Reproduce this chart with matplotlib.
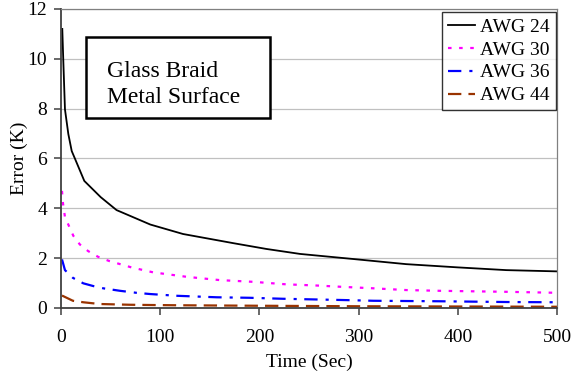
import matplotlib
matplotlib.use("Agg")
import matplotlib.pyplot as plt
from matplotlib.patches import Rectangle

plt.rcParams['font.family'] = ['Liberation Serif', 'DejaVu Serif']

# ---- data ----
t24 = [1.3, 2.3, 4, 7.4, 10.8, 14, 23.5, 40, 56, 90, 123, 174, 207, 241, 291, 348, 400, 449, 500]
v24 = [11.2, 9.95, 7.97, 6.98, 6.3, 6.0, 5.1, 4.45, 3.93, 3.35, 2.97, 2.6, 2.37, 2.17, 1.98, 1.76, 1.63, 1.52, 1.47]

t30 = [1, 2, 4, 12.4, 19, 27.5, 37.6, 49, 60.5, 71, 93, 127, 160, 194, 227, 259, 283, 315, 348, 382, 415, 449, 500]
v30 = [4.7, 4.2, 3.65, 2.9, 2.55, 2.28, 2.05, 1.88, 1.75, 1.63, 1.43, 1.25, 1.12, 1.05, 0.95, 0.9, 0.85, 0.79, 0.72, 0.69, 0.67, 0.65, 0.61]

t36 = [1, 4, 12, 22.5, 32.6, 42.6, 59.5, 76, 90, 117, 157, 190, 224, 284, 315, 382, 449, 500]
v36 = [1.95, 1.52, 1.21, 0.99, 0.88, 0.79, 0.69, 0.61, 0.56, 0.49, 0.43, 0.41, 0.37, 0.32, 0.29, 0.27, 0.24, 0.23]

t44 = [1, 12, 22.5, 39, 69.5, 90, 117, 200, 300, 400, 500]
v44 = [0.5, 0.29, 0.23, 0.16, 0.13, 0.12, 0.11, 0.09, 0.07, 0.06, 0.05]

labels = ["AWG 24", "AWG 30", "AWG 36", "AWG 44"]
colors = ["#000000", "#FF00FF", "#0000FF", "#993300"]
xticks = [0, 100, 200, 300, 400, 500]
yticks = [0, 2, 4, 6, 8, 10, 12]
box_lines = ["Glass Braid", "Metal Surface"]

W, H = 571, 378
fig = plt.figure(figsize=(W / 100, H / 100), dpi=100)
ax = fig.add_axes([61 / W, 1 - 308 / H, (557 - 61) / W, (308 - 9) / H])

ax.plot(t24, v24, color=colors[0], lw=1.3, label=labels[0])
ax.plot(t30, v30, color=colors[1], lw=1.6, dashes=(1.6, 3.4), label=labels[1])
ax.plot(t36, v36, color=colors[2], lw=1.6, dashes=(6.0, 3.6, 1.4, 3.4), label=labels[2])
ax.plot(t44, v44, color=colors[3], lw=1.6, dashes=(6.0, 3.2), label=labels[3])

ax.set_xlim(0, 500)
ax.set_ylim(0, 12)
ax.set_xticks(xticks)
ax.set_yticks(yticks)
ax.yaxis.grid(True, color="#C0C0C0", lw=0.9)
ax.set_axisbelow(True)

for s in ["left", "bottom"]:
    ax.spines[s].set_color("#404040")
    ax.spines[s].set_linewidth(1.3)
for s in ["top", "right"]:
    ax.spines[s].set_color("#808080")
    ax.spines[s].set_linewidth(0.9)

ax.tick_params(axis="both", direction="out", length=5, width=1.1, color="#404040",
               labelsize=14, pad=5)
ax.tick_params(axis="x", pad=10)

ax.set_xlabel("Time (Sec)", fontsize=14, labelpad=6)
ax.set_ylabel("Error (K)", fontsize=14, labelpad=-0.5)

leg = ax.legend(loc="upper right", bbox_to_anchor=(555.7 / W, 1 - 12.3 / H),
                bbox_transform=fig.transFigure, fontsize=14, frameon=True,
                fancybox=False, shadow=False, handlelength=1.42, handletextpad=0.26,
                labelspacing=0.27, borderpad=0.3, borderaxespad=0)
leg.get_frame().set_edgecolor("black")
leg.get_frame().set_linewidth(1.0)

# text box
fig.patches.append(Rectangle((86 / W, 1 - 118 / H), (270 - 86) / W, (118 - 36.7) / H,
                             transform=fig.transFigure, fill=True, facecolor="white",
                             edgecolor="black", lw=1.8, zorder=5))
fig.text(106.7 / W, 1 - 76.7 / H, box_lines[0], fontsize=17, va="baseline", ha="left", zorder=6)
fig.text(106.7 / W, 1 - 103.3 / H, box_lines[1], fontsize=17, va="baseline", ha="left", zorder=6)

fig.savefig("out.png", dpi=100)
